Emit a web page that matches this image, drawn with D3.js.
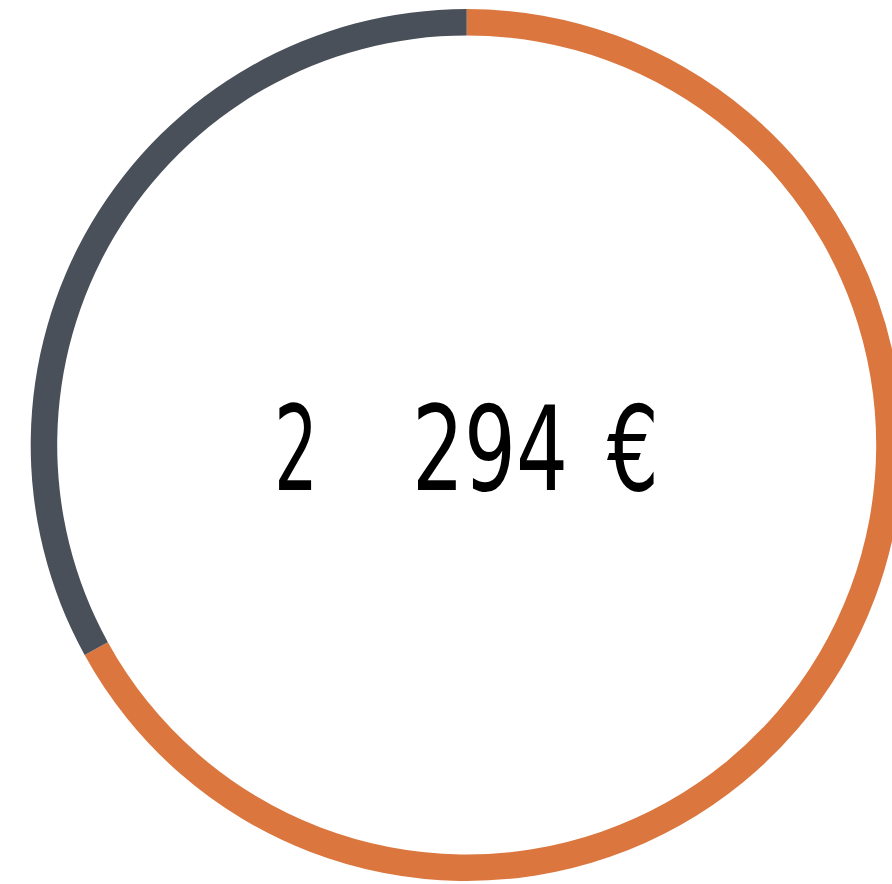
<!DOCTYPE html>
<html>
<head>
<meta charset="utf-8">
<script src="https://cdn.jsdelivr.net/npm/d3@7"></script>
<style>
  html, body { margin: 0; padding: 0; background: #fff; overflow: hidden; }
</style>
</head>
<body>
<svg width="892" height="884"></svg>
<script>
let categories = ["part A", "part B"],
    values = [1537, 757],
    colors = ["#db763f", "#4a5059"],
    totalParts = ["2", "294", "€"];

let svg = d3.select("svg"),
    cx = 466.7,
    cy = 445,
    outer = 436,
    inner = 409.5;

let pie = d3.pie().sort(null).value(function(d) { return d; }),
    arc = d3.arc().innerRadius(inner).outerRadius(outer),
    color = d3.scaleOrdinal().domain(categories).range(colors);

let g = svg.append("g").attr("transform", "translate(" + cx + "," + cy + ")");

g.selectAll("path")
  .data(pie(values))
  .enter().append("path")
    .attr("d", arc)
    .attr("fill", function(d, i) { return color(categories[i]); });

// centre total, "2 294 €" with the wide gap of the original
let spans = [
  {t: totalParts[0], x: 274, w: 44},
  {t: totalParts[1], x: 412, w: 156},
  {t: totalParts[2], x: 607, w: 52}
];

let label = g.append("text")
    .attr("y", 490 - cy)
    .attr("font-family", "'DejaVu Sans Condensed', 'DejaVu Sans', sans-serif")
    .attr("font-size", 117)
    .attr("fill", "#000");

label.selectAll("tspan")
  .data(spans)
  .enter().append("tspan")
    .attr("x", function(d) { return d.x - cx; })
    .attr("textLength", function(d) { return d.w; })
    .attr("lengthAdjust", "spacingAndGlyphs")
    .text(function(d) { return d.t; });
</script>
</body>
</html>
